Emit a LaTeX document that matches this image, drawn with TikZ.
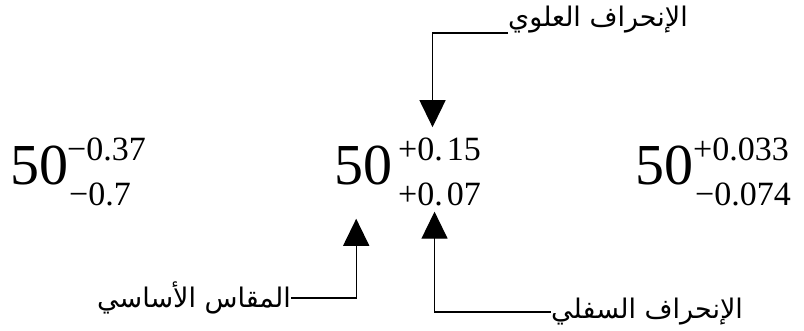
\documentclass[tikz,border=0pt]{standalone}
\usepackage{fontspec}
\setmainfont{Liberation Serif}
\newfontfamily\arabicfont[Script=Arabic]{DejaVu Sans}
\TeXXeTstate=1
\usepackage{xcolor}
\definecolor{cMain}{HTML}{000000}
\usetikzlibrary{positioning,arrows.meta,calc}
\tikzset{
  num-base/.style={inner sep=0pt,anchor=base west,font=\fontsize{58}{58}\selectfont},
  num-dev/.style={inner sep=0pt,anchor=base west,font=\fontsize{34}{34}\selectfont},
  label-ar/.style={inner sep=0pt,font=\arabicfont\fontsize{27}{30}\selectfont},
  arrow/.style={-{Triangle[width=26pt,length=27pt]},line width=1.3pt,draw=cMain},
}
\begin{document}
\begin{tikzpicture}[x=1pt,y=1pt]
  \useasboundingbox (0,0) rectangle (804,331);
  % left
  \node[num-base] (left-base) at (10,146) {50};
  \node[num-dev] (left-up) at (67,170) {−0.37};
  \node[num-dev] (left-low) at (69,125) {−0.7};
  % middle
  \node[num-base] (mid-base) at (334,146) {50};
  \node[num-dev] (mid-up) at (398,170) {+0.\kern4pt15};
  \node[num-dev] (mid-low) at (398,125) {+0.\kern4pt07};
  % right
  \node[num-base] (right-base) at (635,146) {50};
  \node[num-dev] (right-up) at (693,170) {+0.033};
  \node[num-dev] (right-low) at (695,125) {−0.074};

  \node[label-ar,anchor=south west] (lbl-up) at (508,298) {\beginR الإنحراف العلوي\endR};
  \node[label-ar,anchor=east] (lbl-base) at (291,33) {\beginR المقاس الأساسي\endR};
  \node[label-ar,anchor=west] (lbl-low) at (551,19) {\beginR الإنحراف السفلي\endR};

  \draw[arrow] (lbl-up.south west) -| ([xshift=-7pt,yshift=11pt]mid-up.north);
  \draw[arrow] (lbl-base.east) -| ([xshift=-7pt,yshift=-33pt]mid-base.south);
  \draw[arrow] (lbl-low.west) -| ([xshift=-5pt,yshift=-5pt]mid-low.south);
\end{tikzpicture}
\end{document}
